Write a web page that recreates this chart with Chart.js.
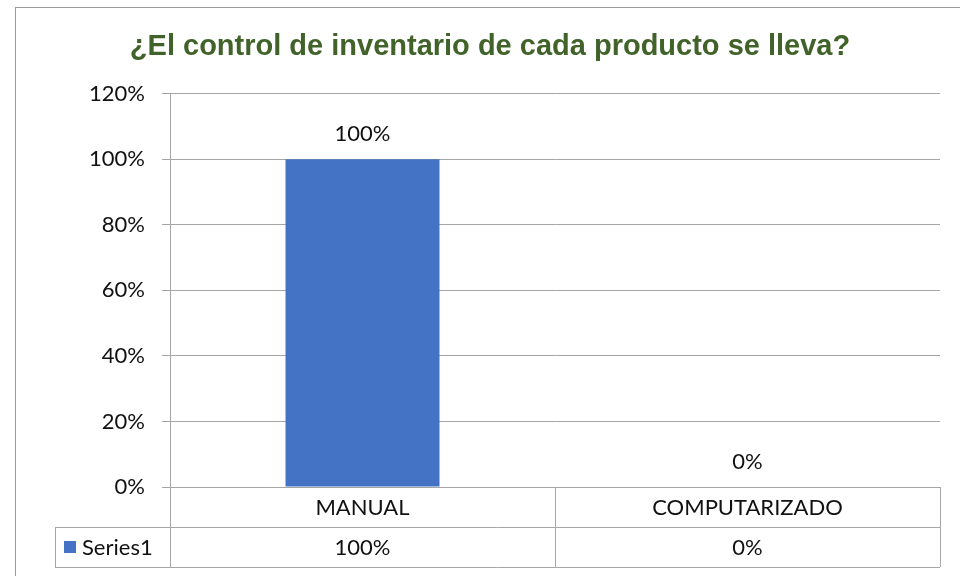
<!DOCTYPE html>
<html>
<head>
<meta charset="utf-8">
<script src="https://cdn.jsdelivr.net/npm/chart.js@4.4.1/dist/chart.umd.min.js"></script>
<style>
  html, body { margin: 0; background: #fff; }
  #wrap { width: 960px; height: 576px; position: relative; }
</style>
</head>
<body>
<div id="wrap"><canvas id="chart"></canvas></div>
<script>
'use strict';

// ── Data ─────────────────────────────────────────────
const titleText    = '¿El control de inventario de cada producto se lleva?';
const categories   = ['MANUAL', 'COMPUTARIZADO'];
const seriesName   = 'Series1';
const seriesValues = [1.0, 0.0];
const yTicks       = [0, 0.2, 0.4, 0.6, 0.8, 1.0, 1.2];

const BAR_COLOR  = '#4472C4';
const GRID_COLOR = '#a6a6a6';
const TEXT_FONT  = 'Lato';
const TEXT_SIZE  = 22;
const pct = v => Math.round(v * 100) + '%';

// Outer chart border, like the Excel chart frame
const frame = {
  id: 'frame',
  beforeDraw(chart) {
    const ctx = chart.ctx;
    ctx.save();
    ctx.fillStyle = '#fff';
    ctx.fillRect(0, 0, chart.width, chart.height);
    ctx.strokeStyle = '#9a9a9a';
    ctx.lineWidth = 1;
    ctx.strokeRect(15.5, 7.5, chart.width, chart.height);
    ctx.restore();
  },
};

// Value labels above each bar
const valueLabels = {
  id: 'valueLabels',
  afterDatasetsDraw(chart) {
    const ctx = chart.ctx;
    const meta = chart.getDatasetMeta(0);
    ctx.save();
    ctx.font = `${TEXT_SIZE}px ${TEXT_FONT}`;
    ctx.fillStyle = '#111';
    ctx.textAlign = 'center';
    ctx.textBaseline = 'middle';
    meta.data.forEach((bar, i) => {
      ctx.fillText(pct(seriesValues[i]), bar.x, bar.y - 25);
    });
    ctx.restore();
  },
};

// Data table under the plot (categories row + series row with legend key)
const dataTable = {
  id: 'dataTable',
  afterDraw(chart) {
    const ctx = chart.ctx;
    const area = chart.chartArea;
    const xs = chart.scales.x;
    const half = (area.right - area.left) / categories.length / 2;
    const rowH = 40;
    const top = area.bottom;
    const legendLeft = 55;

    ctx.save();
    ctx.strokeStyle = GRID_COLOR;
    ctx.lineWidth = 1;
    ctx.beginPath();
    // horizontal lines
    ctx.moveTo(legendLeft, top + rowH + 0.5);
    ctx.lineTo(area.right, top + rowH + 0.5);
    ctx.moveTo(legendLeft, top + 2 * rowH + 0.5);
    ctx.lineTo(area.right, top + 2 * rowH + 0.5);
    // vertical lines
    ctx.moveTo(Math.round(area.left) + 0.5, top);
    ctx.lineTo(Math.round(area.left) + 0.5, top + 2 * rowH);
    ctx.moveTo(legendLeft + 0.5, top + rowH);
    ctx.lineTo(legendLeft + 0.5, top + 2 * rowH);
    categories.forEach((c, i) => {
      const r = Math.round(xs.getPixelForValue(i) + half) + 0.5;
      ctx.moveTo(r, top);
      ctx.lineTo(r, top + 2 * rowH);
    });
    ctx.stroke();

    ctx.font = `${TEXT_SIZE}px ${TEXT_FONT}`;
    ctx.fillStyle = '#111';
    ctx.textAlign = 'center';
    ctx.textBaseline = 'middle';
    categories.forEach((c, i) => {
      const cx = xs.getPixelForValue(i);
      ctx.fillText(c, cx, top + rowH / 2 + 1);
      ctx.fillText(pct(seriesValues[i]), cx, top + rowH * 1.5 + 1);
    });

    // legend key
    ctx.fillStyle = BAR_COLOR;
    ctx.fillRect(64, top + rowH + 14, 12, 12);
    ctx.fillStyle = '#111';
    ctx.textAlign = 'left';
    ctx.fillText(seriesName, 82, top + rowH * 1.5 + 1);
    ctx.restore();
  },
};

new Chart(document.getElementById('chart'), {
  type: 'bar',
  data: {
    labels: categories,
    datasets: [{
      label:              seriesName,
      data:               seriesValues,
      backgroundColor:    BAR_COLOR,
      borderWidth:        0,
      categoryPercentage: 1,
      barPercentage:      0.4,
    }],
  },
  options: {
    responsive:          true,
    maintainAspectRatio: false,
    animation:           false,
    layout: { padding: { left: 40, right: 20, top: 0, bottom: 89 } },
    plugins: {
      legend:  { display: false },
      tooltip: { enabled: false },
      title: {
        display: true,
        text:    titleText,
        color:   '#41632A',
        font:    { family: 'Liberation Sans', size: 29, weight: 'bold', lineHeight: 1.2 },
        padding: { top: 30, bottom: 29 },
      },
    },
    scales: {
      x: {
        display: false,
      },
      y: {
        min: 0,
        max: 1.2,
        afterBuildTicks: scale => { scale.ticks = yTicks.map(v => ({ value: v })); },
        afterFit: scale => { scale.width = 130; },
        grid:   { color: GRID_COLOR, tickLength: 8, lineWidth: 1 },
        border: { display: true, color: GRID_COLOR },
        ticks:  {
          color: '#111',
          padding: 17,
          font: { family: TEXT_FONT, size: TEXT_SIZE },
          callback: v => pct(v),
        },
      },
    },
  },
  plugins: [frame, valueLabels, dataTable],
});
</script>
</body>
</html>
